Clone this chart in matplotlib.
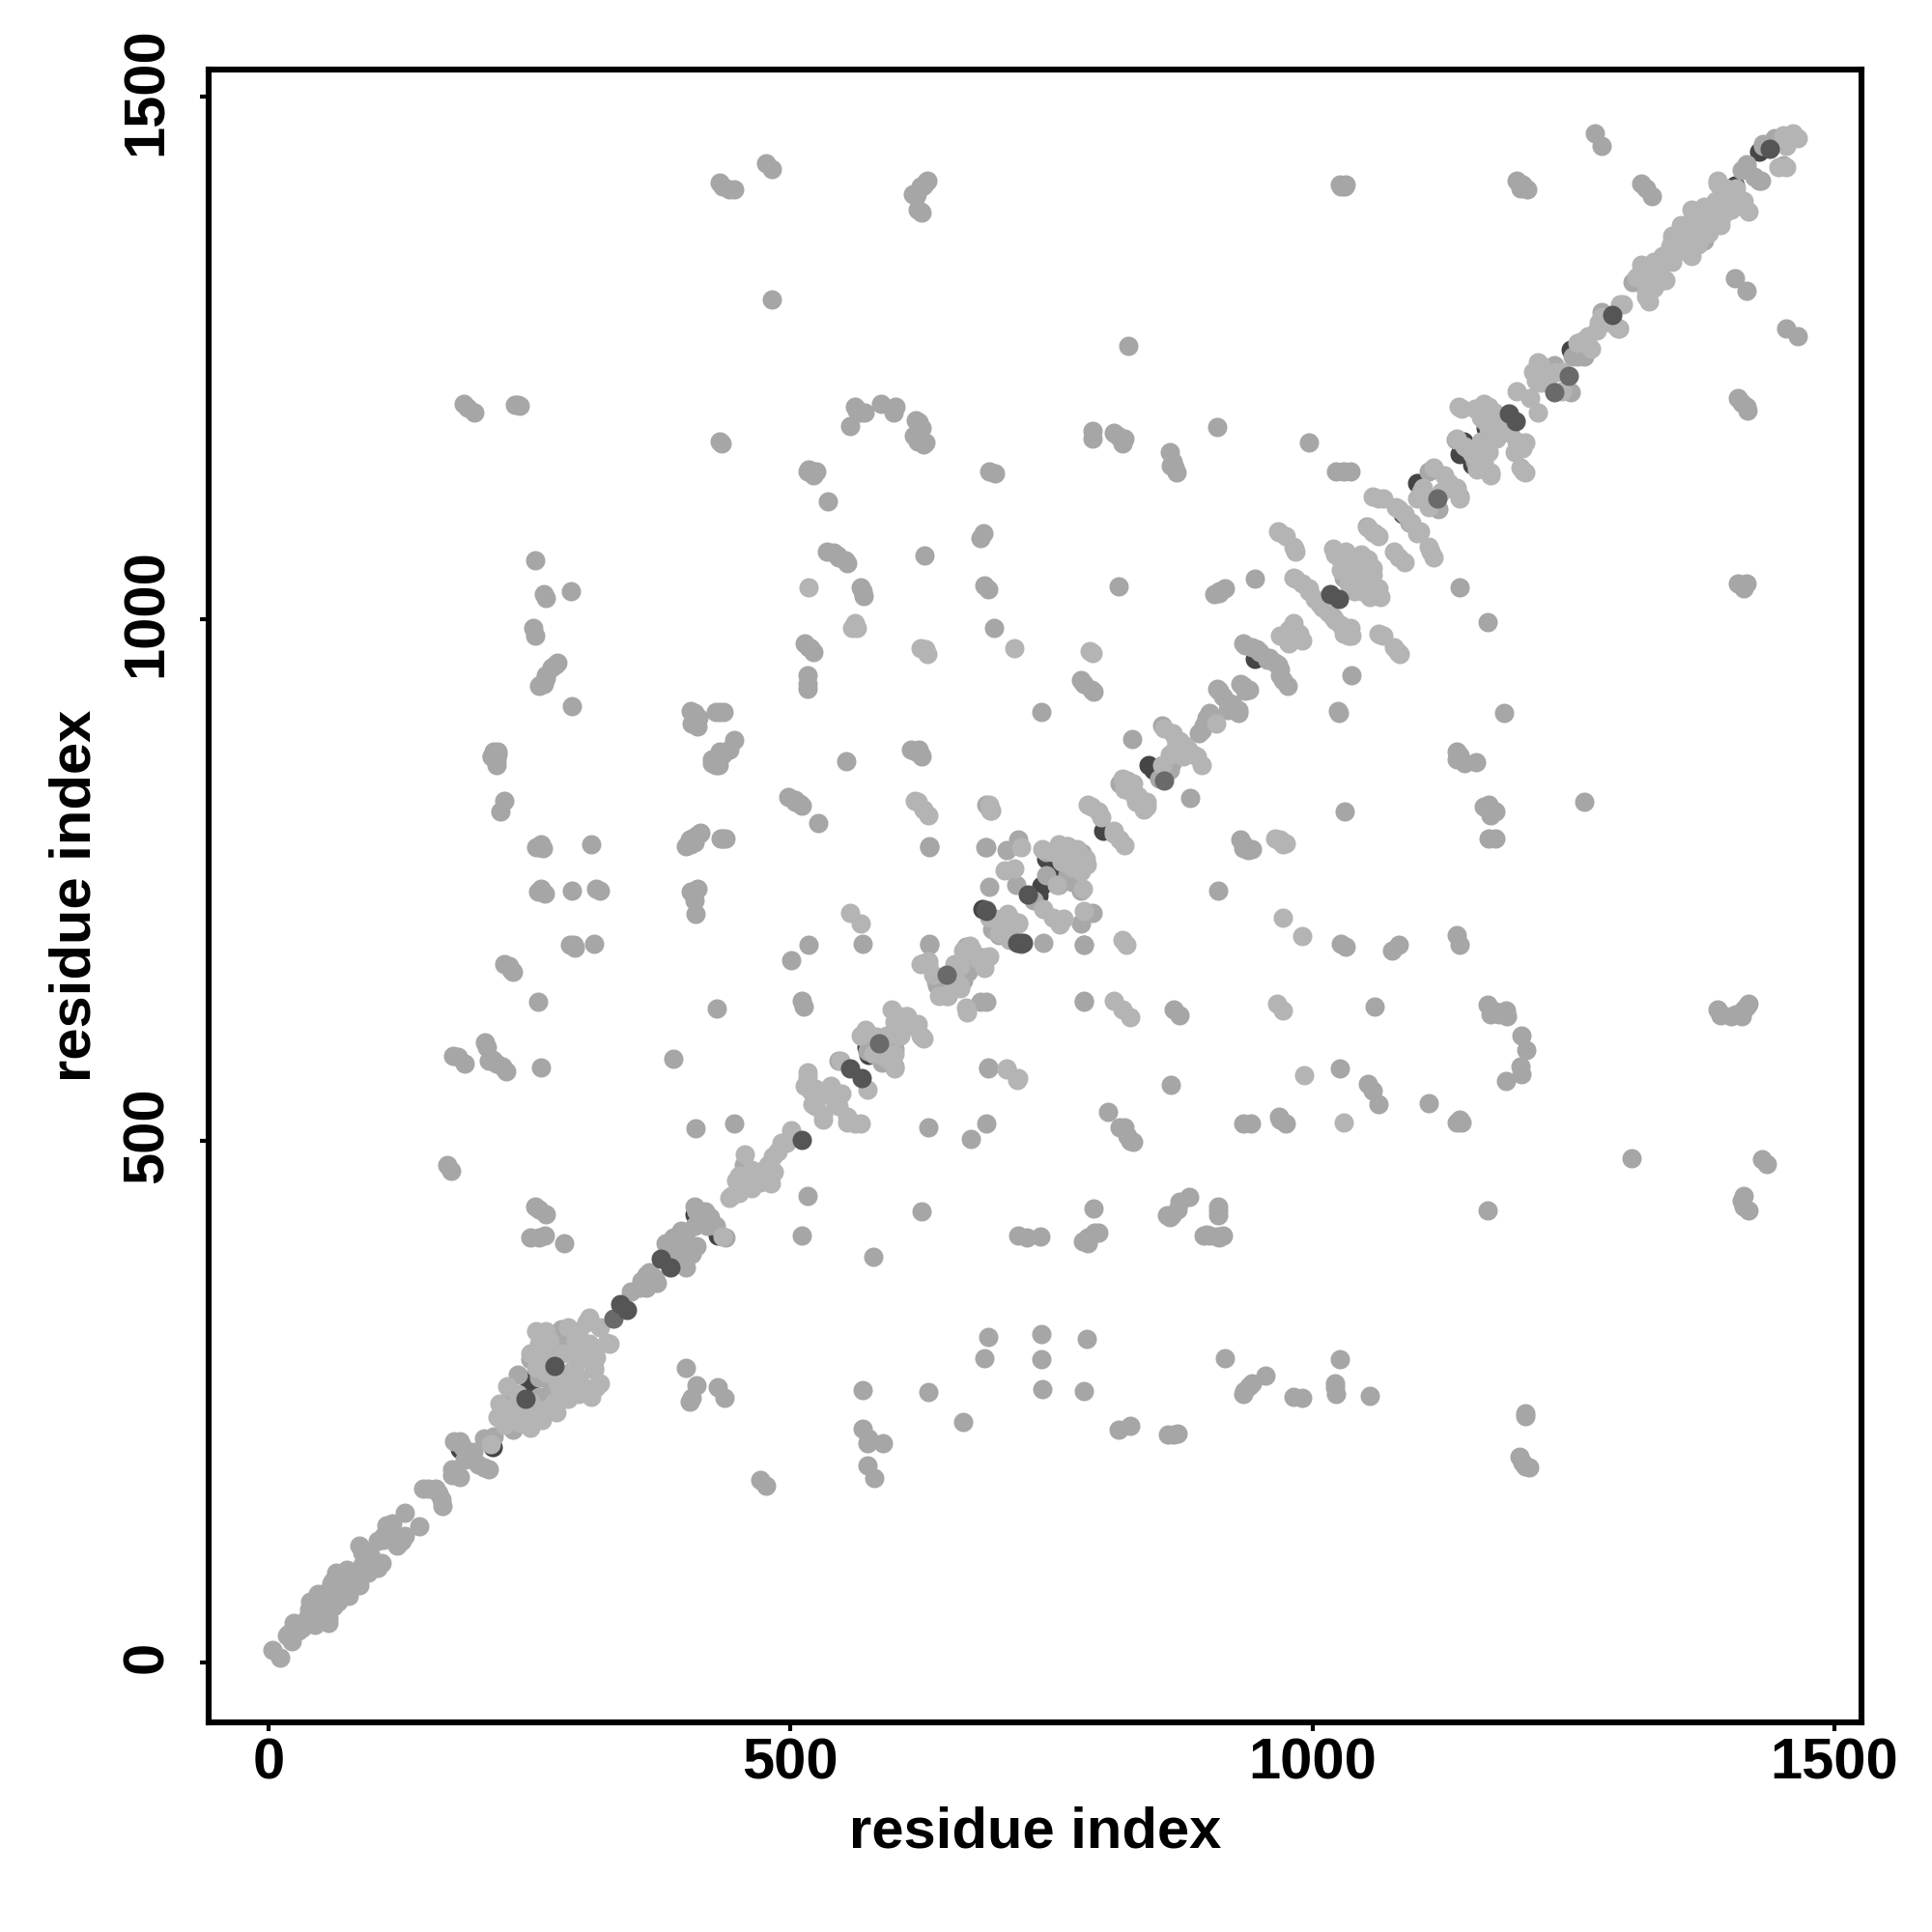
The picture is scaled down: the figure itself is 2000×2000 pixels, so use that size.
import matplotlib
matplotlib.use("Agg")
import matplotlib.pyplot as plt
import matplotlib.transforms as mtrans

# (residue i, residue j)
# isolated contacts away from the diagonal
far_contacts = [
    (477,1436),(482,1431),(432,1418),(435,1414),(441,1411),(446,1411),(631,1420),(626,1414),(621,1407),(622,1392),
    (626,1389),(482,1306),(187,1206),(191,1202),(197,1198),(239,1205),(557,1185),(564,1199),(571,1198),(587,1206),
    (601,1203),(599,1198),(623,1188),(622,1175),(629,1169),(432,1170),(434,1168),(519,1142),(523,1140),(516,1141),
    (536,1112),(535,1064),(545,1061),(554,1053),(628,1061),(255,1056),(264,1024),(266,1020),(290,1026),(569,1026),
    (254,991),(255,984),(275,956),(266,943),(260,937),(291,916),(408,910),(410,900),(432,911),(446,884),
    (441,875),(430,866),(216,870),(218,864),(226,826),(222,815),(498,829),(511,821),(504,825),(527,804),
    (260,781),(309,784),(410,792),(404,784),(435,790),(633,782),(688,781),(517,973),(522,968),(516,938),
    (623,875),(626,868),(553,864),(685,1082),(682,1077),(690,1141),(696,1139),(686,1032),(689,1028),(695,991),
    (261,741),(291,740),(314,741),(408,739),(292,688),(312,689),(230,667),(234,662),(258,633),(517,688),
    (501,673),(569,689),(429,627),(511,634),(633,689),(388,579),(177,581),(188,574),(209,590),(211,577),
    (224,571),(218,574),(261,570),(689,570),(409,512),(446,517),(632,513),(688,517),(673,502),(718,409),
    (726,407),(171,477),(175,471),(516,447),(626,432),(255,437),(266,430),(251,407),(265,409),(283,402),
    (511,409),(579,389),(689,312),(686,292),(400,283),(410,266),(405,254),(430,264),(437,254),(569,261),
    (632,259),(665,231),(569,224),(574,210),(589,210),(574,189),(580,177),(471,175),(477,170),(740,315),
    (740,291),(741,262),(1271,1465),(1277,1453),(1031,1414),(1026,1416),(1201,1416),(1206,1411),(1315,1417),(1325,1405),
    (1405,1326),(1416,1314),(1454,1278),(1465,1271),(1411,1207),(1417,1199),(824,1261),(909,1184),(997,1169),(1030,1141),
    (789,1180),(789,1173),(813,1175),(818,1168),(863,1160),(864,1147),(870,1140),(814,1031),(911,1025),(945,1038),
    (1141,1030),(1413,1031),(1168,997),(781,938),(788,932),(740,911),(1037,946),(1024,912),(1184,910),(1141,869),
    (1157,863),(827,885),(883,828),(1031,815),(1168,819),(1175,815),(1260,825),(1175,790),(1169,790),(934,784),
    (938,778),(910,740),(1027,689),(1032,686),(1083,688),(1076,682),(1138,697),(1141,688),(781,688),(781,634),
    (867,626),(873,620),(1060,629),(1168,630),(1175,624),(1185,625),(1388,626),(1392,621),(1406,621),(1418,631),
    (1413,626),(1200,601),(1205,587),(1199,571),(1200,564),(1185,557),(864,554),(1026,569),(1053,555),(1058,548),
    (1063,535),(1111,536),(1141,520),(804,528),(820,513),(823,505),(828,499),(934,517),(941,517),(968,523),
    (974,517),(1306,483),(1431,482),(1435,478),(790,435),(882,446),(873,442),(865,429),(910,433),(739,408),
    (785,407),(791,412),(899,410),(909,408),(1168,433),(1411,443),(1418,433),(784,310),(916,292),(955,275),
    (939,265),(935,260),(982,255),(990,254),(1026,291),(1022,264),(1055,256),(781,260),(825,227),(814,223),
    (867,219),(1204,239),(1198,197),(1204,188),
]

# second and third points of the elongated far blobs
far_blobs = [
    (236,1205),(241,1204),(404,912),(412,905),(405,900),(411,897),(428,911),(436,911),(517,1143),(522,1137),
    (525,1141),(425,862),(434,870),(431,860),(214,868),(219,873),(218,860),(405,790),(408,786),(414,795),
    (400,782),(256,781),(263,780),(258,739),(265,737),(317,740),(404,739),(411,741),(408,730),(409,717),
    (289,688),(293,685),(226,669),(232,664),(207,594),(215,578),(228,567),(181,580),(259,434),(259,407),
    (403,250),(575,215),(513,629),(1171,621),(1179,621),(1186,619),(1411,619),(1416,629),(1401,619),(1391,620),
    (1413,437),(1413,447),(815,513),(825,500),(969,520),(1138,518),(1143,518),(785,402),(780,404),(795,412),
    (896,409),(901,409),(914,409),(911,407),(910,437),(910,429),(863,427),(861,429),(871,434),(934,258),
    (942,268),(1022,268),(1023,258),(862,219),(871,220),(1204,236),(1201,192),(1208,187),
    (567,1030),(570,1022),(567,1198),(562,1203),(620,1190),(626,1183),(618,1175),(622,1170),(627,1167),(625,1414),
    (617,1407),(620,1405),(627,1415),(630,1419),(625,1390),(546,1059),(541,1063),(552,1056),(516,946),(516,933),
    (519,972),(514,976),(620,873),(625,870),(615,875),(504,827),(509,823),(266,946),(264,938),(259,936),
    (271,953),(277,958),(219,870),(214,868),(216,873),(432,873),(435,870),(425,865),(428,860),(261,784),
    (403,789),(407,787),(413,794),(433,790),(438,790),
    (1027,1414),(1032,1416),(1196,1420),(1199,1412),(1320,1412),(1408,1211),(1416,1203),(1413,1029),(1408,1034),(1416,1034),
    (810,1178),(820,1173),(868,1145),(866,1150),(911,1026),(906,1024),(916,1029),(778,941),(790,930),(1169,822),
    (1164,820),(1171,812),(931,789),(934,780),(942,779),(1023,1141),(1036,1141),(1025,910),(1138,873),(1138,865),
    (1146,862),
]

# paler contacts, mostly close to the diagonal
pale_contacts = [
    (517,1030),(562,992),(625,972),(631,966),(619,826),(632,812),(690,822),(691,816),(714,972),(787,969),
    (968,788),(972,784),(1065,985),(1082,968),(1083,1059),(1113,1064),(968,1083),(983,1067),(1202,1141),(1140,1203),
    (1063,1115),(1058,1083),(980,981),(985,985),(972,714),(990,696),(818,692),(822,688),(810,634),(818,626),
    (825,618),(966,631),(972,625),(992,563),(1030,518),(632,672),(625,669),(707,568),(717,558),(557,718),
    (567,708),
    (1460,1463),(1451,1455),(1388,1417),(1401,1407),(1413,1395),(1396,1390),(1365,1387),(1380,1392),(1378,1380),(1391,1382),
    (1353,1370),(1363,1364),(1345,1362),(1358,1352),(1325,1337),(1315,1339),(1335,1324),(1345,1342),(1320,1309),(1335,1347),
    (1295,1301),(1293,1278),(1272,1276),(1259,1266),(1216,1246),(1214,1233),(1196,1218),(1209,1211),(1216,1198),(1169,1203),
    (1178,1183),(1204,1169),(1194,1160),(1148,1163),(1164,1165),(1171,1140),(1083,1105),(1103,1084),(1022,1062),(1037,1054),
    (1058,1049),(1047,1062),(1060,1024),(1048,1026),(984,1038),(997,1029),(1007,1014),(1036,991),(1035,984),(908,900),
    (869,885),(881,875),(889,868),(841,825),(838,817),(785,822),(798,810),(810,794),(820,783),(765,782),
    (780,767),(770,774),(780,741),
    (741,779),(751,777),(784,765),(714,761),(705,759),(721,781),(742,722),(751,714),(762,713),(758,707),
    (781,720),(708,717),(718,708),(627,670),(632,668),(674,683),(686,666),(662,650),(668,628),(669,623),
    (597,626),(611,619),(622,612),(626,600),(570,602),(582,600),(600,569),(548,577),(707,569),(718,560),
    (213,209),(262,233),(276,240),(314,264),(314,293),(304,326),(324,307),(291,280),(291,260),(435,408),
    (443,447),(471,460),(481,459),(458,462),(478,477),(491,498),(501,510),(484,470),(465,470),(516,566),
    (521,535),(534,545),(549,545),(531,520),(554,518),(567,517),(539,553),(574,549),(625,601),(605,619),
    (670,682),(685,672),(650,639),
]

# more pale points that fill the upper half of the band
pale_upper = [
    (1451,1463),(1460,1465),(1465,1460),(1454,1453),(1446,1433),(1454,1433),(1388,1420),(1396,1412),(1406,1412),(1413,1400),
    (1418,1390),(1391,1400),(1401,1392),(1386,1400),(1391,1377),(1375,1395),(1363,1392),(1353,1377),(1368,1375),(1380,1370),
    (1345,1367),(1343,1357),(1353,1354),(1370,1359),(1363,1347),(1327,1342),(1315,1334),(1322,1327),(1333,1334),(1338,1324),
    (1327,1317),(1310,1327),(1320,1314),(1322,1304),(1297,1301),(1277,1289),(1292,1279),(1285,1284),(1274,1284),(1264,1271),
    (1254,1264),(1267,1259),(1219,1243),(1211,1236),(1234,1236),(1227,1233),(1219,1226),(1239,1236),(1239,1218),(1214,1228),
    (1143,1201),(1156,1201),(1164,1206),(1174,1198),(1181,1188),(1189,1178),(1196,1170),(1201,1163),(1176,1173),(1169,1183),
    (1161,1193),(1138,1173),(1146,1165),(1153,1158),(1164,1150),(1171,1137),(1161,1170),(1169,1160),(1158,1143),
    (1116,1145),(1126,1137),(1131,1130),(1138,1125),(1141,1115),(1106,1125),(1100,1115),(1113,1115),(1123,1122),(1111,1107),
    (1058,1117),(1068,1115),(1080,1107),(1088,1100),(1095,1092),(1100,1082),(1111,1069),(1116,1059),(1078,1064),(1088,1054),
    (1053,1087),(1063,1079),(1020,1067),(1025,1059),(1032,1064),(1042,1059),(1053,1057),(1037,1047),(1027,1047),(1045,1042),
    (1058,1042),(1063,1029),(1050,1034),(1040,1026),(1035,1034),(1055,1021),(1065,1021),
    (982,1039),(990,1034),(997,1026),(1002,1019),(1010,1011),(1015,1006),(1022,999),(1027,994),(1035,989),(1037,984),
    (1030,986),(969,984),(977,989),(987,986),(990,979),(977,976),(982,996),
    (789,967),(1063,986),(1068,984),(1078,973),(1084,966),(967,1084),(974,1079),(982,1069),(984,1064),(1199,1145),
    (1204,1140),(969,789),(964,790),(974,785),(622,825),(627,817),(629,971),(562,996),(564,991),(559,991),
]

# more pale points that fill the lower half of the band
pale_lower = [
    (858,895),(866,890),(873,883),(878,878),(886,870),(894,860),(863,870),(868,875),(876,868),(856,860),
    (818,847),(823,845),(828,842),(820,837),(828,832),(833,830),(838,822),(841,820),(831,825),(788,820),
    (795,815),(810,797),(815,789),(757,784),(775,779),(767,769),(760,767),(783,770),(778,760),(770,762),
    (755,745),(778,758),
    (690,714),(700,712),(710,714),(713,699),(700,699),(710,692),(718,709),(672,687),(680,674),(690,677),
    (663,646),(665,682),(657,669),(637,659),(642,639),(655,646),(663,667),
    (567,601),(572,606),(584,586),(592,601),(600,614),(612,619),(620,609),(627,598),(605,601),(610,609),
    (589,581),(594,578),(600,583),(579,583),
    (516,561),(514,553),(519,548),(524,533),(531,525),(541,540),(546,533),(554,523),(562,517),(524,550),
    (441,445),(451,450),(448,462),(456,487),(463,472),(476,472),(483,485),(488,490),(496,498),(463,455),
    (451,467),(468,470),
    (226,228),(219,235),(221,248),(229,265),(239,258),(251,250),(246,238),(256,235),(266,243),(274,250),
    (231,243),(241,230),(251,225),(256,318),(266,318),(269,308),(259,306),(251,296),(256,283),(266,293),
    (266,278),(282,276),(277,268),(279,260),(287,253),(297,258),(304,263),(317,268),(309,255),(312,281),
    (297,273),(299,291),(307,306),(294,308),(287,321),(297,318),(307,331),(317,321),(327,306),(292,296),
    (282,296),
]

# middle grey contacts inside the diagonal band
band_contacts = [
    (1432,1453),(1451,1434),(1416,1433),(1430,1420),(1375,1362),(1307,1322),(1277,1294),(1294,1278),(1260,1251),(1232,1243),
    (1224,1226),(1247,1217),(1164,1190),(1171,1178),(1137,1172),(1156,1150),(1111,1141),(1133,1125),(1141,1117),(1104,1122),
    (1121,1105),(1093,1092),(1060,1082),(1052,1088),(1030,1039),(1020,1001),(936,975),(947,971),(957,961),(967,956),
    (969,946),(976,936),(911,931),(919,920),(929,913),(931,938),(939,932),(899,905),(894,893),(856,898),
    (865,862),(853,847),(815,842),(765,754),(745,777),
    (718,789),(707,778),(687,781),(765,782),(779,776),(764,773),(745,754),(757,745),(770,748),(778,740),
    (716,745),(733,730),(789,718),(778,708),(781,688),(690,743),(696,713),(693,703),(700,697),(742,690),
    (633,781),(688,822),(692,816),(633,688),(668,686),(685,676),(665,674),(670,662),(639,653),(651,639),
    (688,633),(682,633),(598,588),(588,575),(689,569),(781,633),
    (4,12),(11,5),(22,21),(32,34),(40,59),(57,38),(60,76),(67,71),(75,89),(87,74),
    (90,106),(105,91),(115,124),(128,117),(130,144),(144,131),(27,33),(18,26),(50,44),(62,54),
    (47,66),(77,64),(97,102),(110,118),(153,167),(163,162),(167,150),(176,185),(183,178),(183,212),
    (191,202),(201,190),(211,185),(209,212),(231,235),(234,223),(246,230),(229,250),(239,276),(259,255),
    (251,291),(264,316),(259,273),(271,263),(292,280),(287,313),(277,301),(312,283),(270,291),(280,320),
    (355,359),(362,371),(372,364),(380,402),(400,379),(395,414),(410,399),(408,437),(415,424),(423,427),
    (455,477),(546,577),(569,600),(574,586),(600,571),(600,588),(640,649),(665,654),(696,709),(710,695),
]

# more middle grey, these overlap the band from end to end
band_extra = [
    (1443,1460),(1432,1455),(1416,1435),(1428,1420),(1423,1423),(1411,1430),(1254,1251),(1249,1251),
    (934,976),(942,973),(949,968),(959,963),(964,958),(969,951),(972,941),(909,933),(914,926),(924,918),
    (929,910),(919,913),(934,936),(936,931),(901,910),(904,903),(896,898),(891,890),(863,855),
    (19,28),(29,31),(24,38),(37,43),(47,54),(39,51),(44,36),(57,43),(52,66),(62,79),
    (67,59),(75,74),(72,81),(65,86),(85,79),(90,94),(95,86),(87,112),(97,104),(108,96),
    (105,117),(113,132),(118,134),(110,122),(123,112),(130,122),(148,167),(160,167),(166,157),
    (178,212),(186,207),(188,195),(196,195),(206,187),(176,180),(196,202),(206,215),(216,217),
    (347,356),(357,366),(365,374),(370,369),(362,359),(388,407),(398,402),(405,392),(390,392),(400,412),
    (408,419),(410,432),(418,432),(420,419),(428,419),(438,407),
]

# dark contacts mostly hidden under the others, they show as crescents
hidden_dark = [
    (1428,1447),(1405,1415),(1372,1378),(1355,1362),(1247,1258),(1145,1170),(1100,1130),(1086,1100),(945,962),(848,855),
    (843,860),(800,797),(750,759),(740,744),(226,240),(250,265),(268,295),(430,409),(408,430),(573,590),
    (575,582),(660,650),(684,722),(738,735),(745,770),(760,772),(650,655),(586,596),(579,585),(183,205),
    (215,207),(224,236),(1166,1183),(1141,1158),(1153,1148),(292,306),(299,298),(256,278),(231,245),(221,235),
]

# dark contacts drawn on top
top_dark = [
    (1438,1450),(1287,1291),(1188,1197),(1195,1189),(1017,1024),(1025,1019),
    (727,736),(688,720),(717,690),(723,690),(557,569),(568,560),
    (274,284),(246,253),(337,344),(343,338),(376,387),(385,379),(511,501),
]

# somewhat lighter dark discs
top_dark_soft = [
    (1246,1233),(1232,1217),(1120,1115),(858,845),(330,330),(650,659),(721,689),(688,721),(585,593),
]

x_ticks = [0, 500, 1000, 1500]
y_ticks = [0, 500, 1000, 1500]

plt.rcParams["font.family"] = ["Liberation Sans", "DejaVu Sans"]
plt.rcParams["font.weight"] = "bold"

fig = plt.figure(figsize=(10, 10), dpi=200)
ax = fig.add_axes([216/2000, 1 - 1783/2000, (1927-216)/2000, (1783-72)/2000])

layers = [
    (hidden_dark, "#454545"),
    (band_contacts + band_extra, "#a8a8a8"),
    (far_contacts + far_blobs, "#a6a6a6"),
    (pale_contacts + pale_upper + pale_lower, "#b4b4b4"),
    (top_dark_soft, "#6a6a6a"),
    (top_dark, "#555555"),
]
for pts, col in layers:
    xs = [p[0] for p in pts]
    ys = [p[1] for p in pts]
    ax.scatter(xs, ys, s=52, c=col, linewidths=0)

ax.set_xlim(-57.4, 1526)
ax.set_ylim(-57, 1526)
ax.set_xticks(x_ticks)
ax.set_yticks(y_ticks)
ax.tick_params(axis="x", length=3.1, width=1.5, labelsize=21.5, pad=2.6)
ax.tick_params(axis="y", length=3.1, width=1.5, labelsize=21.5, pad=9.8)
plt.setp(ax.get_yticklabels(), rotation=90, va="center")
# rotated labels sit a little low otherwise
up = mtrans.ScaledTranslation(0, 2/72, fig.dpi_scale_trans)
for lab in ax.get_yticklabels():
    lab.set_transform(lab.get_transform() + up)
ax.set_xlabel("residue index", fontsize=21.5, fontweight="bold", labelpad=5.5)
ax.set_ylabel("residue index", fontsize=21.5, fontweight="bold", labelpad=7)
for sp in ax.spines.values():
    sp.set_linewidth(2.2)

fig.savefig("out.png", dpi=200)
